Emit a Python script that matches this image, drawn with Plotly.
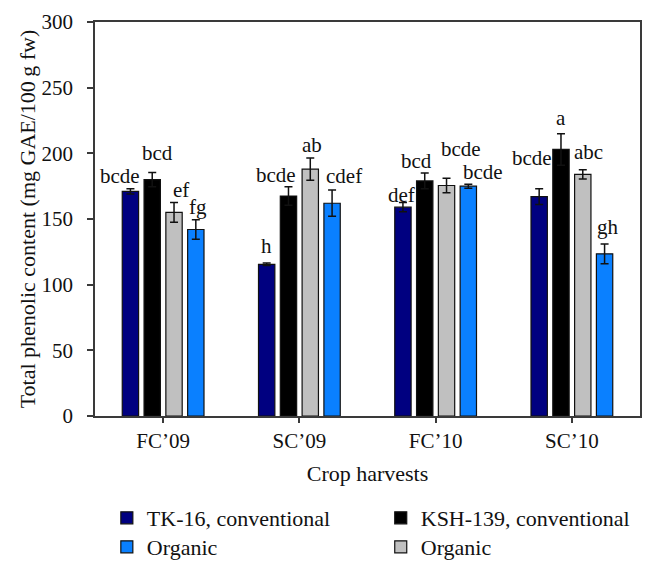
import plotly.graph_objects as go

# ---- data ----
harvests = ["FC\u201909", "SC\u201909", "FC\u201910", "SC\u201910"]

tk16_conv = [171, 115.5, 159, 167]
tk16_conv_err = [2, 1, 3.5, 6]
ksh139_conv = [180, 167.5, 179, 203]
ksh139_conv_err = [5.5, 7, 6, 12]
ksh139_org = [155, 188, 175.5, 184]
ksh139_org_err = [7.5, 8.5, 5.5, 3.5]
tk16_org = [142, 162, 175, 123.5]
tk16_org_err = [7.5, 10, 1.5, 7.5]

letters_tk16_conv = ["bcde", "h", "def", "bcde"]
letters_ksh139_conv = ["bcd", "bcde", "bcd", "a"]
letters_ksh139_org = ["ef", "ab", "bcde", "abc"]
letters_tk16_org = ["fg", "cdef", "bcde", "gh"]

y_ticks = [0, 50, 100, 150, 200, 250, 300]

# ---- style ----
FONT = "Liberation Serif"
TXT = "#111111"
AX = "#3a3a3a"
BARGAP = 0.36
NB = 4

series = [
    ("TK-16, conventional", tk16_conv, tk16_conv_err, letters_tk16_conv, "#000080", "legend"),
    ("KSH-139, conventional", ksh139_conv, ksh139_conv_err, letters_ksh139_conv, "#000000", "legend2"),
    ("Organic", ksh139_org, ksh139_org_err, letters_ksh139_org, "#c0c0c0", "legend4"),
    ("Organic", tk16_org, tk16_org_err, letters_tk16_org, "#0a80ff", "legend3"),
]
# legend placement (container fractions): one legend box per entry
legend_pos = {
    "legend": (0.153, 0.0973),
    "legend2": (0.577, 0.0973),
    "legend3": (0.153, 0.046),
    "legend4": (0.577, 0.046),
}
# small nudges (px) of letter labels, per series and harvest
label_nudge_x = [
    [-10, 0, -1, -7],
    [5, -12, -8, 0],
    [7, 2, 14, 6],
    [2, 12, 15, 3],
]
label_nudge_y = [
    [-1, 3, -6, 16.5],
    [5, -2.5, -2, 2],
    [-1, -1.5, 15.5, 4],
    [-1, 0, -1.5, 3],
]

fig = go.Figure()
for name, vals, errs, lets, col, lg in series:
    fig.add_trace(go.Bar(
        x=harvests, y=vals, name=name,
        marker=dict(color=col, line=dict(color="#111111", width=1.2)),
        error_y=dict(type="data", array=errs, visible=True, color="#111111",
                     thickness=1.5, width=4),
        legend=lg,
    ))

annotations = []
slot = (1 - BARGAP) / NB
for i, (name, vals, errs, lets, col, lg) in enumerate(series):
    off = -(1 - BARGAP) / 2 + (i + 0.5) * slot
    for j, (v, e, t) in enumerate(zip(vals, errs, lets)):
        annotations.append(dict(
            x=j + off, y=v + e, xref="x", yref="y", text=t, showarrow=False,
            yanchor="bottom", xanchor="center",
            yshift=label_nudge_y[i][j], xshift=label_nudge_x[i][j],
            font=dict(family=FONT, size=21, color=TXT),
        ))

legends = {}
for key, (lx, ly) in legend_pos.items():
    legends[key] = dict(
        orientation="h", xref="container", yref="container",
        x=lx, xanchor="left", y=ly, yanchor="middle",
        font=dict(family=FONT, size=22, color=TXT), bgcolor="rgba(0,0,0,0)",
    )

# page body has an 8px default margin, so the figure is 8px smaller
fig.update_layout(
    width=646, height=565,
    margin=dict(l=87, r=14, t=14, b=157),
    paper_bgcolor="white", plot_bgcolor="white",
    barmode="group", bargap=BARGAP, bargroupgap=0.25,
    font=dict(family=FONT, size=21, color=TXT),
    showlegend=True,
    annotations=annotations,
    **legends,
)
fig.update_xaxes(
    type="category", categoryorder="array", categoryarray=harvests, range=[-0.5, 3.5],
    automargin=False,
    showline=True, linecolor=AX, linewidth=1.5, mirror=True,
    ticks="outside", ticklen=5, tickwidth=1.5, tickcolor=AX, ticklabelstandoff=0,
    showgrid=False, tickfont=dict(family=FONT, size=21, color=TXT),
    title=dict(text="Crop harvests", font=dict(family=FONT, size=22, color=TXT), standoff=14),
)
fig.update_yaxes(
    range=[0, 300], tickvals=y_ticks, automargin=False,
    showline=True, linecolor=AX, linewidth=1.5, mirror=True,
    ticks="outside", ticklen=6, tickwidth=1.5, tickcolor=AX, ticklabelstandoff=10,
    showgrid=False, zeroline=False, tickfont=dict(family=FONT, size=21, color=TXT),
    title=dict(text="Total phenolic content (mg GAE/100\u2009g fw)",
               font=dict(family=FONT, size=22, color=TXT), standoff=0),
)

fig.write_html("out.html")
